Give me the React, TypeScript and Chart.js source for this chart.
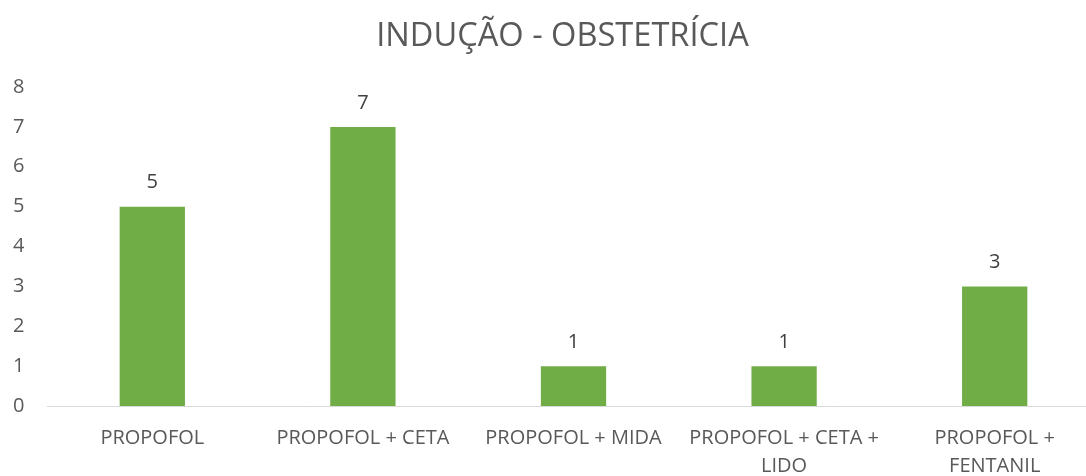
import React, { useEffect, useRef } from "react";
import { Chart, registerables } from "chart.js";

Chart.register(...registerables);

const categories: (string | string[])[] = [
  "PROPOFOL",
  "PROPOFOL + CETA",
  "PROPOFOL + MIDA",
  ["PROPOFOL + CETA +", "LIDO"],
  ["PROPOFOL +", "FENTANIL"],
];
const values: number[] = [5, 7, 1, 1, 3];
const titleText = "INDUÇÃO - OBSTETRÍCIA";
const yMin = 0;
const yMax = 8;
const yStep = 1;

const FONT = "'Open Sans', 'Noto Sans', sans-serif";

const dataLabelPlugin = {
  id: "dataLabels",
  afterDatasetsDraw(chart: any) {
    const ctx = chart.ctx;
    const meta = chart.getDatasetMeta(0);
    const data = chart.data.datasets[0].data;
    ctx.save();
    ctx.font = `20px ${FONT}`;
    ctx.fillStyle = "#404040";
    ctx.textAlign = "center";
    ctx.textBaseline = "middle";
    meta.data.forEach((bar: any, i: number) => {
      ctx.fillText(String(data[i]), bar.x, bar.y - 24);
    });
    ctx.restore();
  },
};

export default function App() {
  const canvasRef = useRef<HTMLCanvasElement | null>(null);

  useEffect(() => {
    if (!canvasRef.current) return;
    const chart = new Chart(canvasRef.current, {
      type: "bar",
      data: {
        labels: categories,
        datasets: [
          {
            data: values,
            backgroundColor: "#70AD47",
            borderWidth: 0,
            barPercentage: 0.31,
            categoryPercentage: 1,
          },
        ],
      },
      options: {
        animation: false,
        responsive: false,
        devicePixelRatio: 1,
        layout: { padding: { left: 25, right: 25, top: 0, bottom: 0 } },
        plugins: {
          legend: { display: false },
          tooltip: { enabled: false },
          title: {
            display: true,
            text: titleText,
            color: "#595959",
            font: { family: FONT, size: 32.6, weight: "normal", lineHeight: 1.2 },
            padding: { top: 17, bottom: 30.9 },
          },
        },
        scales: {
          x: {
            grid: { display: false, drawTicks: false },
            border: { display: true, color: "#D9D9D9", width: 1 },
            ticks: {
              color: "#595959",
              font: { family: FONT, size: 20, lineHeight: 1.4 },
              padding: 18,
              maxRotation: 0,
              minRotation: 0,
              autoSkip: false,
            },
            afterFit: (scale: any) => {
              scale.height = 70;
            },
          },
          y: {
            min: yMin,
            max: yMax,
            grid: { display: false, drawTicks: false },
            border: { display: false },
            ticks: {
              stepSize: yStep,
              color: "#595959",
              font: { family: FONT, size: 20 },
              mirror: true,
              crossAlign: "far",
              padding: -34,
            },
            afterFit: (scale: any) => {
              scale.width = 22;
            },
          },
        },
      },
      plugins: [dataLabelPlugin],
    });
    return () => chart.destroy();
  }, []);

  return (
    <div
      style={{
        position: "absolute",
        left: 0,
        top: 0,
        width: 1086,
        height: 476,
        overflow: "hidden",
        background: "#ffffff",
      }}
    >
      <canvas ref={canvasRef} width={1125} height={476} style={{ display: "block" }} />
    </div>
  );
}
